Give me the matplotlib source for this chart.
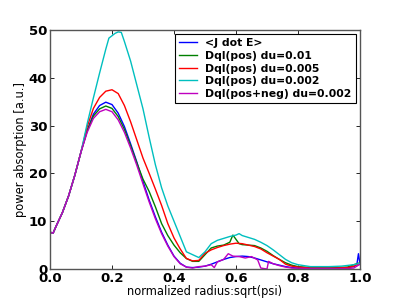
import matplotlib
matplotlib.use("Agg")
import matplotlib.pyplot as plt

# радиус (общий подъём кривых до ~0.1)
x_blue = [0.0, 0.01, 0.02, 0.04, 0.06, 0.08, 0.10, 0.12, 0.14, 0.16, 0.18, 0.20, 0.22, 0.24,
          0.26, 0.28, 0.30, 0.32, 0.34, 0.36, 0.38, 0.40, 0.42, 0.44, 0.46, 0.48, 0.50, 0.52,
          0.54, 0.56, 0.58, 0.60, 0.62, 0.64, 0.66, 0.68, 0.70, 0.72, 0.74, 0.76, 0.78, 0.80,
          0.84, 0.88, 0.92, 0.96, 0.98, 0.99, 0.995, 1.0]
y_blue = [7.7, 7.5, 9.0, 11.8, 15.3, 19.6, 24.5, 29.0, 32.4, 34.2, 34.9, 34.4, 32.6, 29.8,
          26.2, 22.4, 18.3, 14.4, 10.9, 7.7, 5.0, 2.7, 1.2, 0.4, 0.3, 0.4, 0.6, 1.0,
          1.5, 2.0, 2.4, 2.6, 2.7, 2.6, 2.3, 1.9, 1.5, 1.1, 0.8, 0.5, 0.3, 0.2,
          0.1, 0.1, 0.2, 0.3, 0.5, 1.0, 3.2, 1.0]

x_g01 = [0.0, 0.01, 0.02, 0.04, 0.06, 0.08, 0.10, 0.12, 0.14, 0.16, 0.18, 0.20, 0.22, 0.24,
         0.26, 0.28, 0.30, 0.32, 0.34, 0.36, 0.38, 0.40, 0.42, 0.44, 0.46, 0.48, 0.50, 0.52,
         0.54, 0.56, 0.58, 0.59, 0.61, 0.62, 0.64, 0.66, 0.68, 0.70, 0.72, 0.74, 0.76, 0.78,
         0.80, 0.84, 0.88, 0.92, 0.96, 0.98, 1.0]
y_g01 = [7.7, 7.5, 9.0, 11.8, 15.3, 19.6, 24.5, 28.9, 32.0, 33.5, 34.1, 33.6, 31.9, 29.2,
         25.8, 22.2, 18.8, 16.2, 13.0, 9.5, 7.0, 5.0, 3.4, 2.2, 1.6, 1.6, 3.0, 4.4,
         4.8, 5.0, 5.6, 7.1, 5.3, 5.1, 5.0, 4.9, 4.4, 3.7, 2.8, 2.0, 1.3, 0.8,
         0.5, 0.3, 0.3, 0.3, 0.4, 0.9, 1.3]

x_r005 = [0.0, 0.01, 0.02, 0.04, 0.06, 0.08, 0.10, 0.12, 0.14, 0.16, 0.18, 0.20, 0.22, 0.24,
          0.26, 0.28, 0.30, 0.32, 0.34, 0.36, 0.38, 0.40, 0.42, 0.44, 0.46, 0.48, 0.50, 0.52,
          0.54, 0.56, 0.58, 0.60, 0.62, 0.64, 0.66, 0.68, 0.70, 0.72, 0.74, 0.76, 0.78, 0.80,
          0.84, 0.88, 0.92, 0.96, 0.98, 1.0]
y_r005 = [7.7, 7.5, 9.0, 11.8, 15.3, 19.6, 24.5, 29.8, 33.6, 35.9, 37.2, 37.5, 36.7, 34.2,
          30.8, 27.0, 23.2, 20.0, 16.7, 13.3, 9.5, 6.5, 4.2, 2.2, 1.7, 1.8, 3.3, 4.0,
          4.5, 4.9, 5.2, 5.4, 5.3, 5.0, 4.7, 4.2, 3.4, 2.7, 2.0, 1.0, 0.6, 0.4,
          0.2, 0.2, 0.2, 0.3, 0.6, 1.2]

x_c002 = [0.0, 0.01, 0.02, 0.04, 0.06, 0.08, 0.10, 0.12, 0.14, 0.16, 0.18, 0.19, 0.20, 0.21,
          0.22, 0.23, 0.24, 0.26, 0.28, 0.30, 0.32, 0.34, 0.36, 0.38, 0.40, 0.42, 0.44, 0.46,
          0.48, 0.50, 0.52, 0.54, 0.56, 0.58, 0.60, 0.61, 0.62, 0.64, 0.66, 0.68, 0.70, 0.72,
          0.74, 0.76, 0.78, 0.80, 0.84, 0.90, 0.94, 0.98, 1.0]
y_c002 = [7.7, 7.5, 9.0, 11.8, 15.3, 19.6, 24.5, 30.4, 35.8, 41.0, 46.0, 48.3, 48.8, 49.3,
          49.6, 49.5, 47.6, 43.5, 38.5, 33.5, 27.5, 21.8, 17.0, 13.2, 10.0, 6.8, 3.6, 3.0,
          2.4, 3.6, 5.3, 6.0, 6.4, 6.8, 7.1, 7.4, 7.0, 6.6, 6.2, 5.6, 4.9, 4.0,
          3.0, 2.0, 1.3, 0.9, 0.5, 0.5, 0.6, 0.9, 1.2]

x_m002 = [0.0, 0.01, 0.02, 0.04, 0.06, 0.08, 0.10, 0.12, 0.14, 0.16, 0.18, 0.20, 0.22, 0.24,
          0.26, 0.28, 0.30, 0.32, 0.34, 0.36, 0.38, 0.40, 0.42, 0.44, 0.46, 0.48, 0.50, 0.52,
          0.53, 0.54, 0.56, 0.575, 0.59, 0.61, 0.63, 0.65, 0.67, 0.68, 0.70, 0.705, 0.72, 0.74,
          0.76, 0.78, 0.84, 0.90, 0.96, 0.98, 1.0]
y_m002 = [7.7, 7.5, 9.0, 11.8, 15.3, 19.6, 24.5, 28.6, 31.5, 32.9, 33.4, 32.9, 31.2, 28.6,
          25.3, 21.7, 17.8, 14.0, 10.5, 7.4, 4.8, 2.6, 1.1, 0.4, 0.2, 0.5, 0.6, 0.9,
          0.3, 1.5, 2.0, 3.2, 2.7, 2.6, 2.3, 2.6, 1.9, 0.2, 0.0, 1.6, 1.1, 0.7,
          0.4, 0.2, 0.1, 0.1, 0.1, 0.2, 1.0]

labels = ['<J dot E>', 'Dql(pos) du=0.01', 'Dql(pos) du=0.005',
          'Dql(pos) du=0.002', 'Dql(pos+neg) du=0.002']

fig = plt.figure(figsize=(4, 3), dpi=100)
ax = fig.add_axes([0.125, 0.1033, 0.775, 0.7967])

ax.plot(x_blue, y_blue, color='b', lw=1, label=labels[0])
ax.plot(x_g01, y_g01, color='g', lw=1, label=labels[1])
ax.plot(x_r005, y_r005, color='r', lw=1, label=labels[2])
ax.plot(x_c002, y_c002, color='c', lw=1, label=labels[3])
ax.plot(x_m002, y_m002, color='m', lw=1, label=labels[4])

ax.set_xlim(0, 1)
ax.set_ylim(0, 50)
ax.set_xticks([0.0, 0.2, 0.4, 0.6, 0.8, 1.0])
ax.set_yticks([0, 10, 20, 30, 40, 50])
ax.tick_params(direction='in', top=True, right=True, length=3, width=0.6,
               labelsize=9.5, pad=2)
for t in ax.get_xticklabels() + ax.get_yticklabels():
    t.set_fontweight('bold')
for s in ax.spines.values():
    s.set_linewidth(1.0)
    s.set_color('#555555')

ax.set_xlabel('normalized radius:sqrt(psi)', fontsize=8.3, labelpad=0)
ax.set_ylabel('power absorption [a.u.]', fontsize=8.3, labelpad=1)

leg = ax.legend(loc='upper right', prop={'weight': 'bold', 'size': 7.8},
                handlelength=1.6, labelspacing=0.25, borderpad=0.4,
                handletextpad=0.8, fancybox=False, framealpha=1,
                borderaxespad=0.35)
leg.get_frame().set_edgecolor('black')
leg.get_frame().set_linewidth(0.8)

fig.savefig('out.png', dpi=100)
